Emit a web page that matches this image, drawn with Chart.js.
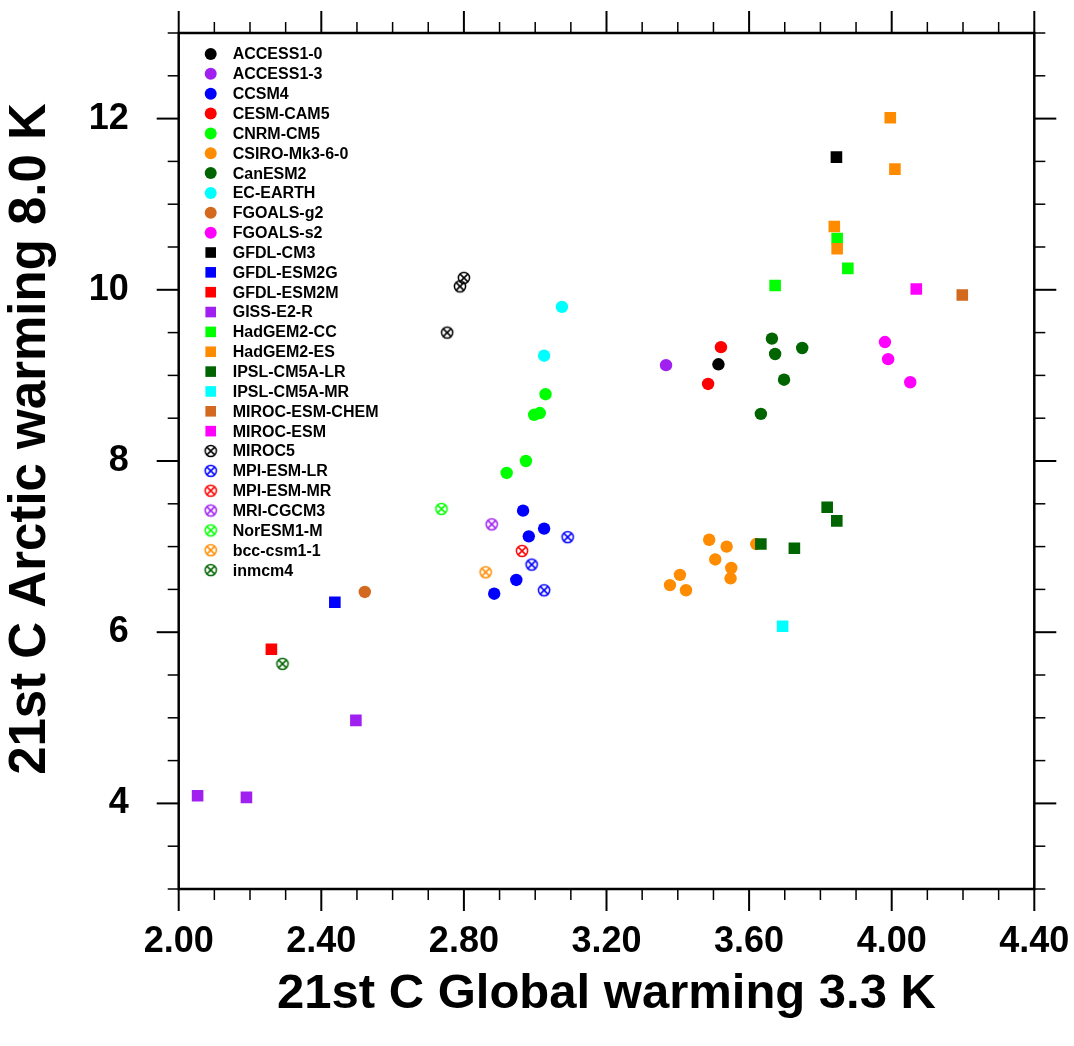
<!DOCTYPE html>
<html>
<head>
<meta charset="utf-8">
<title>21st C Arctic vs Global warming</title>
<script src="https://cdn.jsdelivr.net/npm/chart.js@4.4.1/dist/chart.umd.min.js"></script>
<style>
  html, body { margin: 0; padding: 0; background: #fff; }
  #wrap { width: 1074px; height: 1046px; }
</style>
</head>
<body>
<div id="wrap"><canvas id="chart"></canvas></div>
<script>
// models in legend order
const models = [
    'ACCESS1-0', 'ACCESS1-3', 'CCSM4', 'CESM-CAM5', 'CNRM-CM5', 'CSIRO-Mk3-6-0',
    'CanESM2', 'EC-EARTH', 'FGOALS-g2', 'FGOALS-s2',
    'GFDL-CM3', 'GFDL-ESM2G', 'GFDL-ESM2M', 'GISS-E2-R', 'HadGEM2-CC', 'HadGEM2-ES',
    'IPSL-CM5A-LR', 'IPSL-CM5A-MR', 'MIROC-ESM-CHEM', 'MIROC-ESM',
    'MIROC5', 'MPI-ESM-LR', 'MPI-ESM-MR', 'MRI-CGCM3', 'NorESM1-M', 'bcc-csm1-1', 'inmcm4'
];

const markerKinds = [
    'circle', 'circle', 'circle', 'circle', 'circle', 'circle', 'circle', 'circle', 'circle', 'circle',
    'square', 'square', 'square', 'square', 'square', 'square', 'square', 'square', 'square', 'square',
    'cross', 'cross', 'cross', 'cross', 'cross', 'cross', 'cross'
];

const colors = [
    '#000000', '#a020f0', '#0000ff', '#ff0000', '#00ff00', '#ff8c00', '#006400', '#00ffff', '#d2691e', '#ff00ff',
    '#000000', '#0000ff', '#ff0000', '#a020f0', '#00ff00', '#ff8c00', '#006400', '#00ffff', '#d2691e', '#ff00ff',
    '#000000', '#0000ff', '#ff0000', '#a020f0', '#00ff00', '#ff8c00', '#006400'
];

// global warming (K), one list per model (ensemble members)
const globalWarming = [
    [3.514], [3.367],
    [2.966, 3.025, 2.982, 2.947, 2.885],
    [3.521, 3.485],
    [3.029, 3.013, 2.997, 2.974, 2.920],
    [3.488, 3.537, 3.620, 3.505, 3.550, 3.548, 3.406, 3.378, 3.423],
    [3.664, 3.673, 3.749, 3.698, 3.633],
    [3.075, 3.025],
    [2.522],
    [3.981, 3.990, 4.052],
    [3.845], [2.438], [2.260],
    [2.497, 2.053, 2.190],
    [3.847, 3.877, 3.673],
    [3.996, 4.009, 3.839, 3.847],
    [3.819, 3.846, 3.633, 3.727],
    [3.694], [4.198], [4.069],
    [2.800, 2.789, 2.753],
    [3.091, 2.990, 3.025],
    [2.963], [2.878], [2.737], [2.861], [2.291]
];

// arctic warming (K), same layout
const arcticWarming = [
    [9.13], [9.12],
    [7.42, 7.21, 7.12, 6.61, 6.45],
    [9.33, 8.90],
    [8.78, 8.56, 8.54, 8.00, 7.86],
    [7.08, 7.00, 7.03, 6.85, 6.75, 6.63, 6.67, 6.55, 6.49],
    [9.43, 9.25, 9.32, 8.95, 8.55],
    [9.80, 9.23],
    [6.47],
    [9.39, 9.19, 8.92],
    [11.55], [6.35], [5.80],
    [4.97, 4.09, 4.07],
    [10.60, 10.25, 10.05],
    [12.01, 11.41, 10.74, 10.48],
    [7.46, 7.30, 7.03, 6.98],
    [6.07], [9.94], [10.01],
    [10.14, 10.04, 9.50],
    [7.11, 6.79, 6.49],
    [6.95], [7.26], [7.44], [6.70], [5.63]
];

const xTickValues = [2.0, 2.4, 2.8, 3.2, 3.6, 4.0, 4.4];
const yTickValues = [4, 6, 8, 10, 12];
const yTitle = '21st C Arctic warming 8.0 K';
const xTitle = '21st C Global warming 3.3 K';

const FONT = '"Liberation Sans", Arial, Helvetica, sans-serif';

// circle with an X inside, like the NCL marker
function crossedCircle(color) {
    const c = document.createElement('canvas');
    c.width = 16;
    c.height = 16;
    const g = c.getContext('2d');
    g.strokeStyle = color;
    g.lineWidth = 1.5;
    g.beginPath();
    g.arc(8, 8, 5.6, 0, Math.PI * 2);
    g.stroke();
    const d = 3.9;
    g.beginPath();
    g.moveTo(8 - d, 8 - d); g.lineTo(8 + d, 8 + d);
    g.moveTo(8 + d, 8 - d); g.lineTo(8 - d, 8 + d);
    g.stroke();
    return c;
}

const datasets = models.map((name, i) => {
    const kind = markerKinds[i];
    let style = 'circle';
    let radius = 6.2;
    if (kind === 'square') { style = 'rect'; radius = 8.2; }
    if (kind === 'cross') { style = crossedCircle(colors[i]); }
    return {
        label: name,
        data: globalWarming[i].map((x, j) => ({x: x, y: arcticWarming[i][j]})),
        pointStyle: style,
        pointRadius: radius,
        pointHoverRadius: radius,
        pointBackgroundColor: colors[i],
        pointBorderWidth: 0,
        order: -i
    };
});

// box, outward major/minor ticks on all four sides
const frameTicks = {
    id: 'frameTicks',
    afterDraw(chart) {
        const {ctx, chartArea: a, scales: {x, y}} = chart;
        ctx.save();
        ctx.strokeStyle = '#000';
        ctx.lineCap = 'butt';

        const tick = (x1, y1, x2, y2, w) => {
            ctx.lineWidth = w;
            ctx.beginPath();
            ctx.moveTo(x1, y1);
            ctx.lineTo(x2, y2);
            ctx.stroke();
        };

        for (let k = 0; k <= 24; k++) {
            const v = 2 + k * 0.1;
            const px = x.getPixelForValue(v);
            const major = k % 4 === 0;
            const len = major ? 22 : 11;
            const w = major ? 2 : 1.5;
            tick(px, a.bottom, px, a.bottom + len, w);
            tick(px, a.top, px, a.top - len, w);
        }
        for (let k = 0; k <= 20; k++) {
            const v = 3 + k * 0.5;
            const py = y.getPixelForValue(v);
            const major = (k % 4 === 2);
            const len = major ? 22 : 11;
            const w = major ? 2 : 1.5;
            tick(a.left, py, a.left - len, py, w);
            tick(a.right, py, a.right + len, py, w);
        }

        ctx.lineWidth = 2.5;
        ctx.strokeRect(a.left, a.top, a.right - a.left, a.bottom - a.top);

        // y title sits a bit above the frame centre in the original
        ctx.fillStyle = '#000';
        ctx.font = 'bold 51px ' + FONT;
        ctx.textAlign = 'center';
        ctx.textBaseline = 'middle';
        ctx.translate(31, 439);
        ctx.rotate(-Math.PI / 2);
        ctx.fillText(yTitle, 0, 0);
        ctx.restore();
    }
};

// legend inside the plot, top-left
const insideLegend = {
    id: 'insideLegend',
    afterDatasetsDraw(chart) {
        const {ctx, chartArea: a} = chart;
        ctx.save();
        ctx.font = 'bold 16px ' + FONT;
        ctx.textBaseline = 'middle';
        ctx.textAlign = 'left';
        models.forEach((name, i) => {
            const mx = a.left + 32;
            const my = a.top + 21 + i * 19.85;
            const kind = markerKinds[i];
            ctx.fillStyle = colors[i];
            if (kind === 'circle') {
                ctx.beginPath();
                ctx.arc(mx, my, 6, 0, Math.PI * 2);
                ctx.fill();
            } else if (kind === 'square') {
                ctx.fillRect(mx - 5.3, my - 5.3, 10.6, 10.6);
            } else {
                const img = chart.data.datasets[i].pointStyle;
                ctx.drawImage(img, mx - img.width / 2, my - img.height / 2);
            }
            ctx.fillStyle = '#000';
            ctx.fillText(name, a.left + 54, my + 1);
        });
        ctx.restore();
    }
};

// fixed box sizes so the plot frame lands where the original has it
function noPadding(scale) {
    scale.paddingTop = 0;
    scale.paddingBottom = 0;
    scale.paddingLeft = 0;
    scale.paddingRight = 0;
}

new Chart(document.getElementById('chart'), {
    type: 'scatter',
    data: {datasets: datasets},
    options: {
        responsive: true,
        maintainAspectRatio: false,
        animation: false,
        layout: {
            autoPadding: false,
            padding: {left: 0, right: 39.7, top: 33, bottom: 0}
        },
        plugins: {
            legend: {display: false},
            tooltip: {enabled: false}
        },
        scales: {
            x: {
                type: 'linear',
                min: 2,
                max: 4.4,
                afterBuildTicks: scale => {
                    scale.ticks = xTickValues.map(v => ({value: v}));
                },
                afterFit: scale => { scale.height = 157; noPadding(scale); },
                grid: {display: false, drawTicks: false},
                border: {display: false},
                ticks: {
                    padding: 31,
                    color: '#000',
                    font: {family: FONT, size: 36, weight: 'bold'},
                    callback: v => Number(v).toFixed(2)
                },
                title: {
                    display: true,
                    text: xTitle,
                    color: '#000',
                    font: {family: FONT, size: 49, weight: 'bold'},
                    padding: {top: 0, bottom: 22}
                }
            },
            y: {
                type: 'linear',
                min: 3,
                max: 13,
                afterBuildTicks: scale => {
                    scale.ticks = yTickValues.map(v => ({value: v}));
                },
                afterFit: scale => { scale.width = 178.7; noPadding(scale); },
                grid: {display: false, drawTicks: false},
                border: {display: false},
                ticks: {
                    padding: 50,
                    color: '#000',
                    font: {family: FONT, size: 36, weight: 'bold'},
                    callback: v => String(v)
                },
                title: {display: false}
            }
        }
    },
    plugins: [frameTicks, insideLegend]
});
</script>
</body>
</html>
